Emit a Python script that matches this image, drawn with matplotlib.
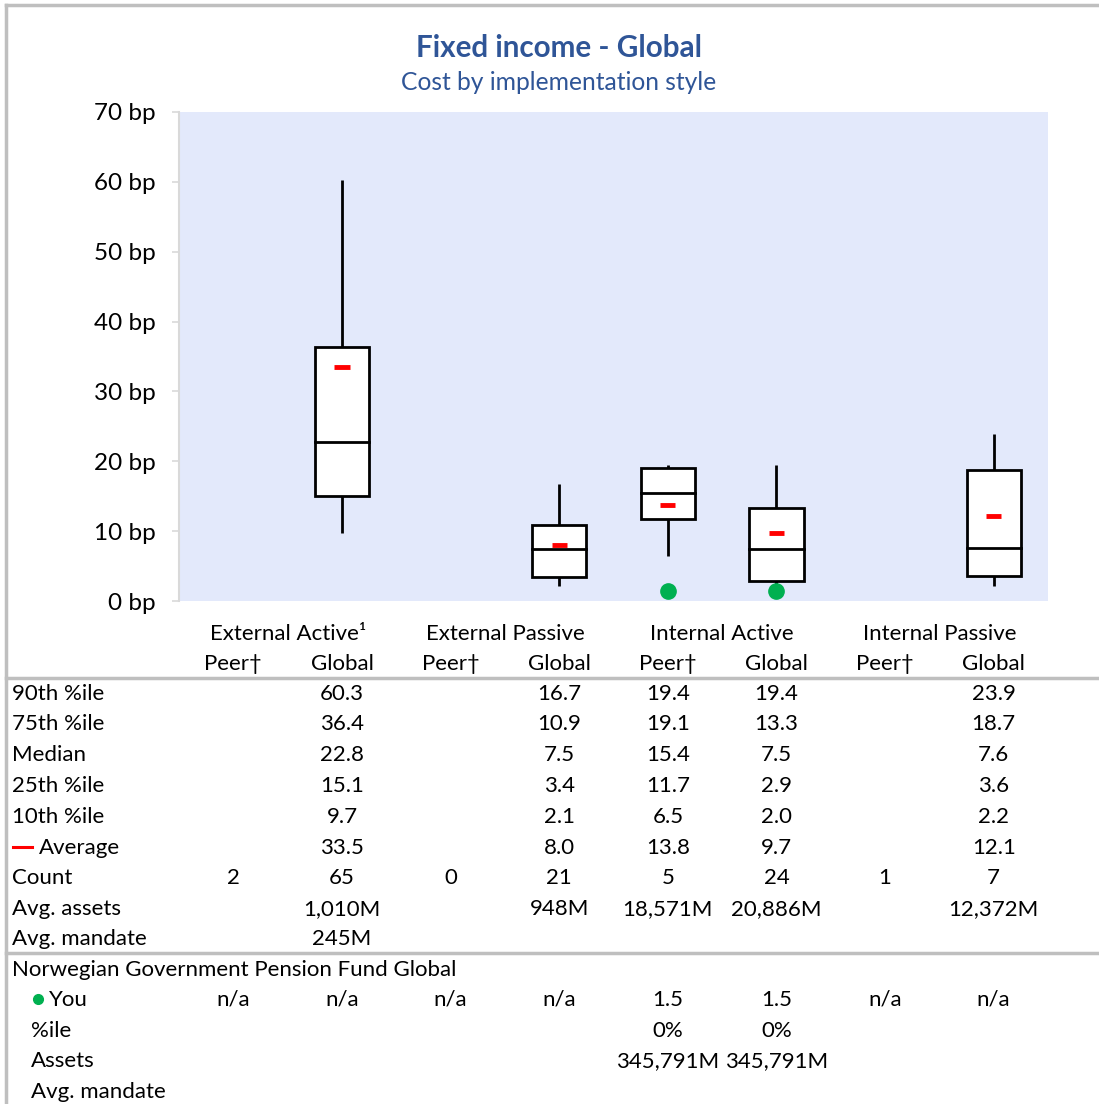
import matplotlib.pyplot as plt
from matplotlib.lines import Line2D
from matplotlib.patches import Rectangle
import matplotlib.transforms as mtransforms

plt.rcParams["font.family"] = ["Lato", "DejaVu Sans"]

# ---- data -------------------------------------------------------------
groups = ["External Active\u00b9", "External Passive", "Internal Active", "Internal Passive"]
sub_labels = ["Peer\u2020", "Global"] * 4

# one entry per column (Peer, Global for each group); None = no box drawn
p90 = [None, 60.3, None, 16.7, 19.4, 19.4, None, 23.9]
p75 = [None, 36.4, None, 10.9, 19.1, 13.3, None, 18.7]
median = [None, 22.8, None, 7.5, 15.4, 7.5, None, 7.6]
p25 = [None, 15.1, None, 3.4, 11.7, 2.9, None, 3.6]
p10 = [None, 9.7, None, 2.1, 6.5, 2.0, None, 2.2]
average = [None, 33.5, None, 8.0, 13.8, 9.7, None, 12.1]
count = [2, 65, 0, 21, 5, 24, 1, 7]
avg_assets = ["", "1,010M", "", "948M", "18,571M", "20,886M", "", "12,372M"]
avg_mandate = ["", "245M", "", "", "", "", "", ""]

fund_name = "Norwegian Government Pension Fund Global"
you_values = [None, None, None, None, 1.5, 1.5, None, None]
you_pctile = ["", "", "", "", "0%", "0%", "", ""]
you_assets = ["", "", "", "", "345,791M", "345,791M", "", ""]
you_mandate = ["", "", "", "", "", "", "", ""]

y_ticks = [0, 10, 20, 30, 40, 50, 60, 70]

# ---- layout -----------------------------------------------------------
W, H = 1099, 1104
BLUE = "#2F5597"
GREY = "#BFBFBF"
FS = 16

fig = plt.figure(figsize=(W / 100, H / 100), dpi=100)
ax = fig.add_axes([179 / W, 1 - 601 / H, (1048 - 179) / W, (601 - 112) / H])
ax.set_facecolor("#E3E9FB")
ax.set_xlim(-0.5, 7.5)
ax.set_ylim(0, 70)
for side in ["top", "right", "bottom"]:
    ax.spines[side].set_visible(False)
ax.spines["left"].set_color("#D9D9D9")
ax.spines["left"].set_linewidth(1.5)
ax.set_xticks([])
ax.set_yticks(y_ticks)
ax.set_yticklabels([f"{t} bp" for t in y_ticks], fontsize=17.5)
ax.tick_params(axis="y", color="#D9D9D9", length=5, width=1.2, pad=12)

box_w = 0.5
for i in range(8):
    if p90[i] is None:
        continue
    ax.plot([i, i], [p75[i], p90[i]], color="black", lw=2, zorder=2, solid_capstyle="butt")
    ax.plot([i, i], [p10[i], p25[i]], color="black", lw=2, zorder=2, solid_capstyle="butt")
    ax.add_patch(Rectangle((i - box_w / 2, p25[i]), box_w, p75[i] - p25[i],
                           facecolor="white", edgecolor="black", lw=2, zorder=3))
    ax.plot([i - box_w / 2, i + box_w / 2], [median[i], median[i]], color="black", lw=2, zorder=4)
    ax.plot([i - 0.07, i + 0.07], [average[i], average[i]], color="red", lw=3.5,
            zorder=5, solid_capstyle="butt")

for i, v in enumerate(you_values):
    if v is not None:
        ax.plot(i, v, "o", color="#00B050", markersize=11, zorder=6, clip_on=False)

# ---- titles -----------------------------------------------------------
fig.text(559 / W, 1 - 48 / H, "Fixed income - Global", ha="center", va="center",
         fontsize=21.3, fontweight="bold", color=BLUE)
fig.text(559 / W, 1 - 82 / H, "Cost by implementation style", ha="center", va="center",
         fontsize=17.7, color=BLUE)

# ---- table ------------------------------------------------------------
tr = mtransforms.blended_transform_factory(ax.transData, fig.transFigure)


def fy(py):
    return 1 - py / H


for g, name in enumerate(groups):
    ax.text(2 * g + 0.5, fy(634), name, transform=tr, ha="center", va="center", fontsize=FS)
for i, lab in enumerate(sub_labels):
    ax.text(i, fy(664), lab, transform=tr, ha="center", va="center", fontsize=FS)


def fmt(v):
    return "" if v is None else f"{v:.1f}"


rows = [
    ("90th %ile", [fmt(v) for v in p90]),
    ("75th %ile", [fmt(v) for v in p75]),
    ("Median", [fmt(v) for v in median]),
    ("25th %ile", [fmt(v) for v in p25]),
    ("10th %ile", [fmt(v) for v in p10]),
    ("Average", [fmt(v) for v in average]),
    ("Count", [str(c) for c in count]),
    ("Avg. assets", avg_assets),
    ("Avg. mandate", avg_mandate),
]
row_y = [694, 724, 755, 786, 817, 848, 878, 909, 939]
for (label, vals), py in zip(rows, row_y):
    x0 = 12
    if label == "Average":
        fig.add_artist(Line2D([13 / W, 32 / W], [fy(py - 1), fy(py - 1)], color="red", lw=2.2))
        x0 = 39
    fig.text(x0 / W, fy(py), label, ha="left", va="center", fontsize=FS)
    for i, s in enumerate(vals):
        ax.text(i, fy(py), s, transform=tr, ha="center", va="center", fontsize=FS)

fig.text(12 / W, fy(970), fund_name, ha="left", va="center", fontsize=FS)
you_rows = [
    ("You", ["n/a" if v is None else f"{v:.1f}" for v in you_values], 1000),
    ("%ile", you_pctile, 1031),
    ("Assets", you_assets, 1061),
    ("Avg. mandate", you_mandate, 1092),
]
for label, vals, py in you_rows:
    x0 = 31
    if label == "You":
        fig.add_artist(Line2D([38 / W], [fy(py - 1)], marker="o", color="#00B050",
                              markersize=7, linestyle="none"))
        x0 = 49
    fig.text(x0 / W, fy(py), label, ha="left", va="center", fontsize=FS)
    for i, s in enumerate(vals):
        ax.text(i, fy(py), s, transform=tr, ha="center", va="center", fontsize=FS)

# ---- frame lines ------------------------------------------------------
for py in [678, 953]:
    fig.add_artist(Line2D([6 / W, 1], [fy(py), fy(py)], color=GREY, lw=2.5))
fig.add_artist(Line2D([6 / W, 6 / W], [0, fy(5)], color=GREY, lw=2.5))
fig.add_artist(Line2D([6 / W, 1], [fy(5), fy(5)], color=GREY, lw=2.5))

fig.savefig("out.png", dpi=100)
